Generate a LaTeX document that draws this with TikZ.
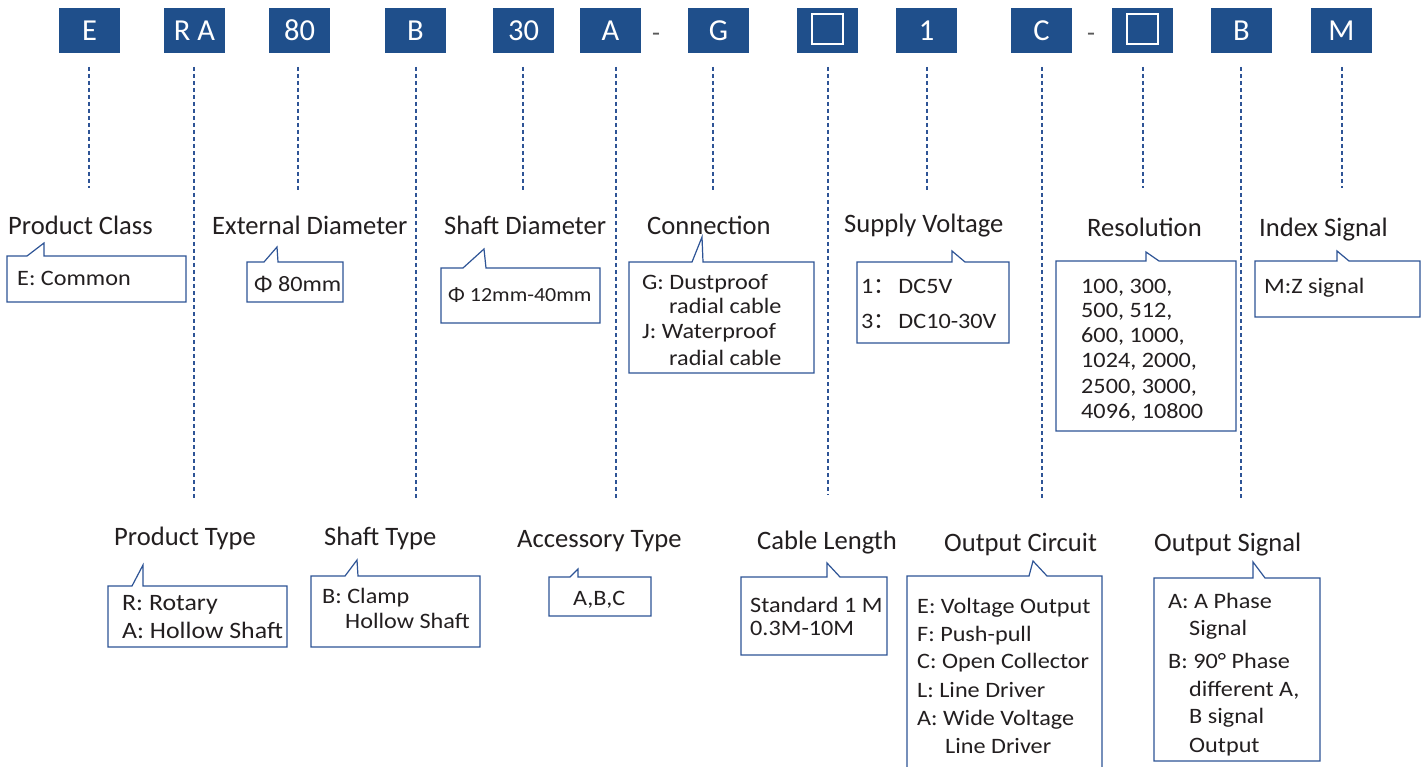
\documentclass[tikz,border=0pt]{standalone}
\usepackage{fontspec}
\setmainfont{Carlito}
\newfontfamily\bodyfont[FakeStretch=1.1]{Carlito}
\newfontfamily\cjkfont{Noto Sans CJK SC}
\definecolor{topblue}{RGB}{31,79,139}
\definecolor{lineblue}{RGB}{46,84,150}
\definecolor{txt}{RGB}{35,31,32}
\definecolor{dashgray}{RGB}{90,90,90}
\tikzset{
  topbox/.style={fill=topblue, text=white, minimum width=61pt, minimum height=45pt, inner sep=0pt, font=\fontsize{30.5}{30}\selectfont},
  sq/.style={draw=white, line width=1.4pt, minimum width=31pt, minimum height=30pt, inner sep=0pt},
  sep/.style={text=dashgray, inner sep=0pt, font=\fontsize{26}{26}\selectfont},
  guide/.style={draw=lineblue, line width=1.3pt, dash pattern=on 4pt off 3pt},
  callout/.style={draw=lineblue, line width=1.2pt, line join=miter},
  title/.style={anchor=base west, inner sep=0pt, text=txt, font=\fontsize{26.6}{26}\selectfont},
  body/.style={anchor=base west, inner sep=0pt, text=txt, font=\bodyfont\fontsize{22}{22}\selectfont},
  bodyL/.style={body, font=\bodyfont\fontsize{23.5}{22}\selectfont},
  bodyS/.style={body, font=\bodyfont\fontsize{20}{20}\selectfont}
}
\begin{document}
\begin{tikzpicture}[x=1pt,y=-1pt]
\useasboundingbox (0,0) rectangle (1426,767);
\fill[white] (0,0) rectangle (1426,767);
% top code boxes
\node[topbox] (bE)  at (89.5,30.5) {E};
\node[topbox] (bRA) at (194.5,30.5) {R A};
\node[topbox] (b80) at (299.5,30.5) {80};
\node[topbox] (bB)  at (415.5,30.5) {B};
\node[topbox] (b30) at (523.5,30.5) {30};
\node[topbox] (bA)  at (610.5,30.5) {A};
\node[sep]    (d1)  at (656,37) {-};
\node[topbox] (bG)  at (718.5,30.5) {G};
\node[topbox] (bQ1) at (827.5,30.5) {};
\node[sq]     (q1)  at (827.5,29) {};
\node[topbox] (b1)  at (926.5,30.5) {1};
\node[topbox] (bC)  at (1041.5,30.5) {C};
\node[sep]    (d2)  at (1091,37) {-};
\node[topbox] (bQ2) at (1142.5,30.5) {};
\node[sq]     (q2)  at (1142.5,29) {};
\node[topbox] (bB2) at (1241.5,30.5) {B};
\node[topbox] (bM)  at (1341.5,30.5) {M};
% guide lines
\foreach \n/\x/\e in {E/89/188, RA/194/498, 80/298/190, B/416/498, 30/523/190, A/616/498, G/713/190, Q1/828/495, 1/927/190, C/1042/498, Q2/1143/188, B2/1241/498, M/1342/188}{
  \coordinate (s\n) at (\x,67);
  \coordinate (e\n) at (\x,\e);
  \draw[guide] (s\n) -- (e\n);
}
% callouts upper row
\draw[callout] (7,256) -- (27,256) -- (44,243) -- (44,256) -- (186,256) -- (186,302) -- (7,302) -- cycle;
\draw[callout] (247,262) -- (264,262) -- (277,247) -- (278,262) -- (343,262) -- (343,302) -- (247,302) -- cycle;
\draw[callout] (441,268) -- (463,268) -- (484,249) -- (486,268) -- (600,268) -- (600,323) -- (441,323) -- cycle;
\draw[callout] (629,262) -- (692,262) -- (702,237) -- (703,262) -- (814,262) -- (814,373) -- (629,373) -- cycle;
\draw[callout] (857,262) -- (952,262) -- (952,251) -- (965,262) -- (1009,262) -- (1009,343) -- (857,343) -- cycle;
\draw[callout] (1056,261) -- (1146,261) -- (1146,252) -- (1159,261) -- (1236,261) -- (1236,431) -- (1056,431) -- cycle;
\draw[callout] (1255,261) -- (1337,261) -- (1337,251) -- (1349,261) -- (1420,261) -- (1420,317) -- (1255,317) -- cycle;
% callouts lower row
\draw[callout] (108,586) -- (132,586) -- (143,565) -- (143,586) -- (287,586) -- (287,647) -- (108,647) -- cycle;
\draw[callout] (311,576) -- (345,576) -- (357,560) -- (358,576) -- (480,576) -- (480,647) -- (311,647) -- cycle;
\draw[callout] (549,577) -- (570,577) -- (578,569) -- (578,577) -- (651,577) -- (651,616) -- (549,616) -- cycle;
\draw[callout] (741,577) -- (827,577) -- (827,563) -- (840,577) -- (887,577) -- (887,655) -- (741,655) -- cycle;
\draw[callout] (907,772) -- (907,576) -- (1029,576) -- (1033,561) -- (1047,576) -- (1102,576) -- (1102,772);
\draw[callout] (1154,578) -- (1253,578) -- (1253,562) -- (1265,578) -- (1320,578) -- (1320,761) -- (1154,761) -- cycle;
% titles
\node[title] (tPC) at (8,235) {Product Class};
\node[title] (tED) at (212,235) {External Diameter};
\node[title] (tSD) at (444,235) {Shaft Diameter};
\node[title] (tCo) at (647,235) {Connection};
\node[title] (tSV) at (844,233) {Supply Voltage};
\node[title] (tRe) at (1087,237) {Resolution};
\node[title] (tIS) at (1259,237) {Index Signal};
\node[title] (tPT) at (114,545) {Product Type};
\node[title] (tST) at (324,545) {Shaft Type};
\node[title] (tAT) at (517,547) {Accessory Type};
\node[title] (tCL) at (757,549) {Cable Length};
\node[title] (tOC) at (944,551) {Output Circuit};
\node[title] (tOS) at (1154,551) {Output Signal};
% body texts
\node[body] (pc1) at (17,285) {E: Common};
\node[body] (ed1) at (254,291) {Φ 80mm};
\node[bodyS] (sd1) at (448,301) {Φ 12mm-40mm};
\node[body] (co1) at (642,289) {G: Dustproof};
\node[body] (co2) at (669,313) {radial cable};
\node[body] (co3) at (642,338) {J: Waterproof};
\node[body] (co4) at (669,365) {radial cable};
\node[body] (sv1) at (861,294) {1{\cjkfont ：}\hspace{3pt}DC5V};
\node[body] (sv2) at (861,328) {3{\cjkfont ：}\hspace{3pt}DC10-30V};
\node[body] (re1) at (1081,293) {100, 300,};
\node[body] (re2) at (1081,317) {500, 512,};
\node[body] (re3) at (1081,342) {600, 1000,};
\node[body] (re4) at (1081,367) {1024, 2000,};
\node[body] (re5) at (1081,393) {2500, 3000,};
\node[body] (re6) at (1081,418) {4096, 10800};
\node[body] (is1) at (1264,293) {M:Z signal};
\node[bodyL] (pt1) at (122,610) {R: Rotary};
\node[bodyL] (pt2) at (122,638) {A: Hollow Shaft};
\node[body] (st1) at (322,603) {B: Clamp};
\node[body] (st2) at (345,628) {Hollow Shaft};
\node[body] (at1) at (573,605) {A,B,C};
\node[body] (cl1) at (750,612) {Standard 1 M};
\node[body] (cl2) at (750,635) {0.3M-10M};
\node[body] (oc1) at (917,613) {E: Voltage Output};
\node[body] (oc2) at (917,641) {F: Push-pull};
\node[body] (oc3) at (917,668) {C: Open Collector};
\node[body] (oc4) at (917,697) {L: Line Driver};
\node[body] (oc5) at (917,725) {A: Wide Voltage};
\node[body] (oc6) at (945,753) {Line Driver};
\node[body] (os1) at (1168,608) {A: A Phase};
\node[body] (os2) at (1189,635) {Signal};
\node[body] (os3) at (1168,668) {B: 90° Phase};
\node[body] (os4) at (1189,696) {different A,};
\node[body] (os5) at (1189,723) {B signal};
\node[body] (os6) at (1189,752) {Output};
\end{tikzpicture}
\end{document}
